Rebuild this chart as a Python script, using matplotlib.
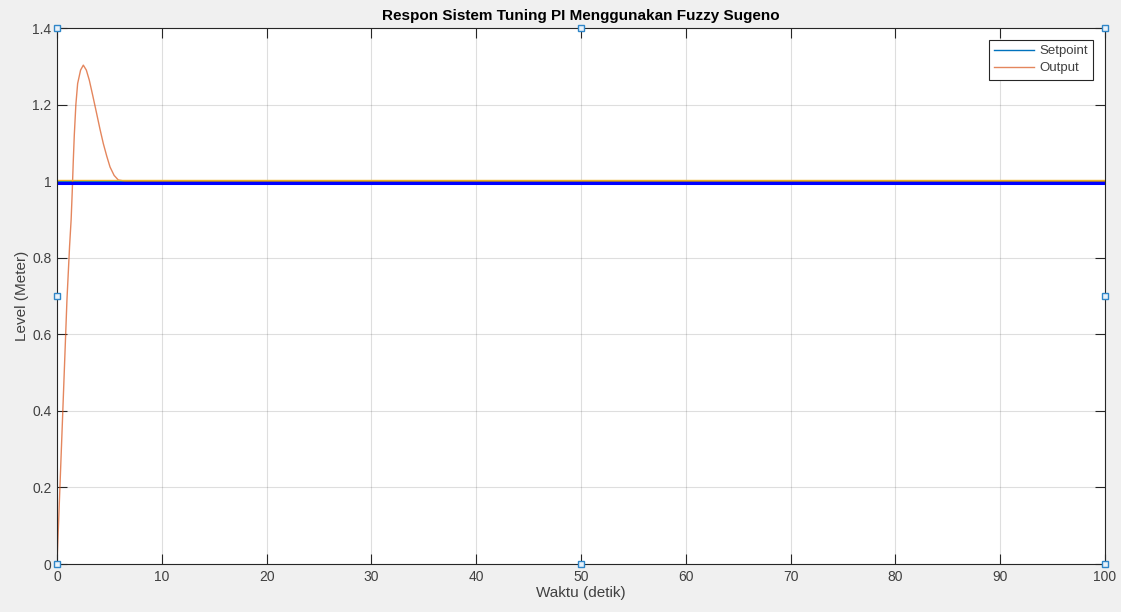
import matplotlib.pyplot as plt
import numpy as np

plt.rcParams['font.family'] = ['Liberation Sans', 'DejaVu Sans']

# data (time in seconds, level in meters)
t_out = [0, 0.5, 0.95, 1.2, 1.35, 1.45, 1.55, 1.65, 1.8, 1.97, 2.25, 2.51, 2.8, 3.08, 3.4, 3.78, 4.1, 4.42, 4.75, 5.06, 5.45, 5.85, 6.5, 10, 100]
y_out = [0, 0.36, 0.69, 0.83, 0.9, 0.97, 1.05, 1.12, 1.2, 1.255, 1.29, 1.303, 1.29, 1.264, 1.225, 1.177, 1.136, 1.098, 1.065, 1.037, 1.015, 1.003, 1.0, 1.0, 1.0]
t_sp = [0, 100]
y_sp = [1.0, 1.0]
y_ref = [1.002, 1.002]    # yellow line
y_blue = [0.995, 0.995]   # thick blue line

xticks = np.arange(0, 101, 10)
yticks = [0, 0.2, 0.4, 0.6, 0.8, 1.0, 1.2, 1.4]
yticklabels = ['0', '0.2', '0.4', '0.6', '0.8', '1', '1.2', '1.4']

axc = '#262626'
labc = '#404040'

fig = plt.figure(figsize=(11.21, 6.12), dpi=100, facecolor='#f0f0f0')
ax = fig.add_axes([57 / 1121, 1 - 564 / 612, (1105 - 57) / 1121, (564 - 28) / 612])
ax.set_facecolor('white')

ax.plot(t_sp, y_sp, color='#0072BD', lw=1.0, label='Setpoint')
ax.plot(t_out, y_out, color='#D95319', lw=1.0, alpha=0.7, label='Output')
ax.plot(t_sp, y_blue, color='#0000ff', lw=2.2)
ax.plot(t_sp, y_ref, color='#EDB120', lw=1.0)

ax.set_xlim(0, 100)
ax.set_ylim(0, 1.4)
ax.set_xticks(xticks)
ax.set_yticks(yticks)
ax.set_yticklabels(yticklabels)
ax.grid(True, color=axc, alpha=0.15, lw=0.8)
ax.set_axisbelow(True)
ax.tick_params(direction='in', length=7, width=0.8, top=True, right=True,
               colors=axc, labelsize=10, labelcolor=labc, pad=4)
for sp in ax.spines.values():
    sp.set_color(axc)
    sp.set_linewidth(0.8)

ax.set_title('Respon Sistem Tuning PI Menggunakan Fuzzy Sugeno', fontsize=11,
             fontweight='bold', color='black', pad=6)
ax.set_xlabel('Waktu (detik)', fontsize=11, color=labc, labelpad=2)
ax.set_ylabel('Level (Meter)', fontsize=11, color=labc, labelpad=2)

leg = ax.legend(loc='upper right', fontsize=9.5, fancybox=False, framealpha=1,
                edgecolor=axc, handlelength=3.0, borderaxespad=0.9,
                borderpad=0.4, labelspacing=0.35, handletextpad=0.4)
leg.get_frame().set_linewidth(0.8)
for txt in leg.get_texts():
    txt.set_color(labc)

# selection handles on the axes box
hx = [0, 0, 0, 0.5, 1, 1, 1, 0.5]
hy = [0, 0.5, 1, 1, 1, 0.5, 0, 0]
ax.plot(hx, hy, ls='none', marker='s', ms=5, mfc='#e8f2fa', mec='#2f86c8',
        mew=1.0, transform=ax.transAxes, clip_on=False, zorder=10)

fig.savefig('out.png', dpi=100, facecolor=fig.get_facecolor())
